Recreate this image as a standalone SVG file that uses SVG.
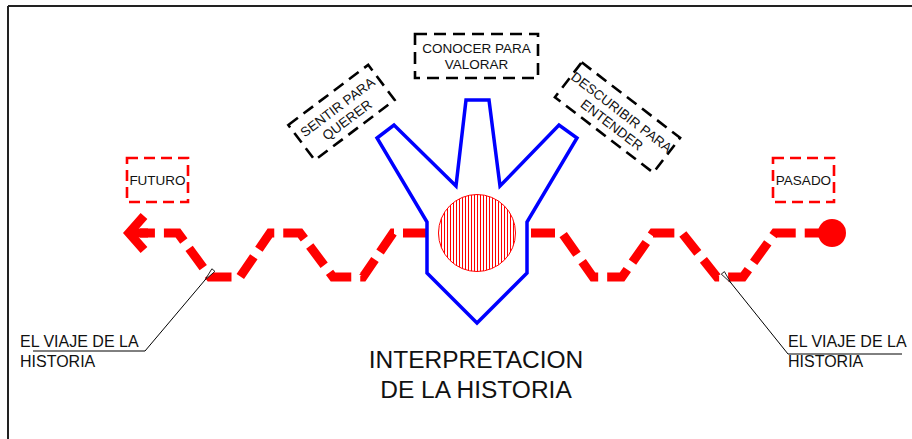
<svg xmlns="http://www.w3.org/2000/svg" width="912" height="439" viewBox="0 0 912 439">
<style>
text{font-family:"Liberation Sans",Arial,sans-serif;fill:#111}
.bx{fill:none;stroke:#000;stroke-width:2.6;stroke-dasharray:12 7}
.rb{fill:none;stroke:#f00;stroke-width:2.6;stroke-dasharray:11 6}
.lbl{font-size:13.5px;text-anchor:middle}
.cl{font-size:16px}
.path{fill:none;stroke:#f00;stroke-width:9;stroke-dasharray:24 9;stroke-linejoin:miter}
.lead{fill:none;stroke:#000;stroke-width:1}
</style>
<defs>
<pattern id="hatch" width="3" height="10" patternUnits="userSpaceOnUse">
<rect x="0" y="0" width="1" height="10" fill="#f00"/>
</pattern>
<marker id="ah" markerWidth="14" markerHeight="6" refX="0" refY="3" orient="auto-start-reverse" markerUnits="userSpaceOnUse">
<path d="M0,3 L13,1 L13,5 Z" fill="#fff" stroke="#000" stroke-width="0.8"/>
</marker>
</defs>
<g id="frame" fill="none" stroke="#222" stroke-width="2">
<line x1="8" y1="6" x2="912" y2="6"/>
<line x1="8" y1="6" x2="8" y2="439"/>
</g>
<g id="connectors">
<polyline class="path" points="427,233 393,233 363,277 333,277 300,233 270,233 240,277 210,277 178,233 140,233"/>
<polyline fill="none" stroke="#f00" stroke-width="9" points="144,216 129,233 144,250"/>
<line x1="128" y1="233" x2="148" y2="233" stroke="#f00" stroke-width="9"/>
<polyline class="path" points="531,233 562,233 593,277 622,277 653,233 682,233 717,277 743,277 775,233 820,233"/>
<circle cx="832" cy="233" r="14" fill="#f00"/>
<polyline class="lead" points="205,280 145,351 33,351" marker-start="url(#ah)"/>
<polyline class="lead" points="731,283 788,354 902,354" marker-start="url(#ah)"/>
</g>
<g id="central">
<polygon points="466,100 489,100 500,186 559,125 577,138 527,222 527,273 477,323 427,273 427,222 377,138 394,125 456,186" fill="none" stroke="#00f" stroke-width="3.5" stroke-linejoin="miter"/>
<circle cx="477" cy="233" r="38.5" fill="url(#hatch)" stroke="#f00" stroke-width="1"/>
</g>
<g id="conocer">
<rect class="bx" x="415" y="34" width="123" height="44"/>
<text class="lbl" x="476.5" y="53">CONOCER PARA</text>
<text class="lbl" x="476.5" y="69">VALORAR</text>
</g>
<g id="sentir" transform="translate(341.5,112.5) rotate(-37)">
<rect class="bx" x="-50" y="-22" width="100" height="44"/>
<text class="lbl" x="0" y="-2">SENTIR PARA</text>
<text class="lbl" x="0" y="14">QUERER</text>
</g>
<g id="descubrir" transform="translate(617.5,117.5) rotate(37.5)">
<rect class="bx" x="-62" y="-22" width="124" height="44"/>
<text class="lbl" x="0" y="-2">DESCURIBIR PARA</text>
<text class="lbl" x="0" y="14">ENTENDER</text>
</g>
<g id="futuro">
<rect class="rb" x="127" y="158" width="61" height="44"/>
<text class="lbl" x="157.5" y="185">FUTURO</text>
</g>
<g id="pasado">
<rect class="rb" x="773" y="158" width="61" height="44"/>
<text class="lbl" x="803.5" y="185">PASADO</text>
</g>
<g id="viaje-left">
<text class="cl" x="20" y="347">EL VIAJE DE LA</text>
<text class="cl" x="20" y="367">HISTORIA</text>
</g>
<g id="viaje-right">
<text class="cl" x="788" y="347">EL VIAJE DE LA</text>
<text class="cl" x="788" y="367">HISTORIA</text>
</g>
<g id="titulo">
<text x="476" y="368" font-size="24.5" text-anchor="middle">INTERPRETACION</text>
<text x="476" y="398" font-size="24.5" text-anchor="middle">DE LA HISTORIA</text>
</g>
</svg>
